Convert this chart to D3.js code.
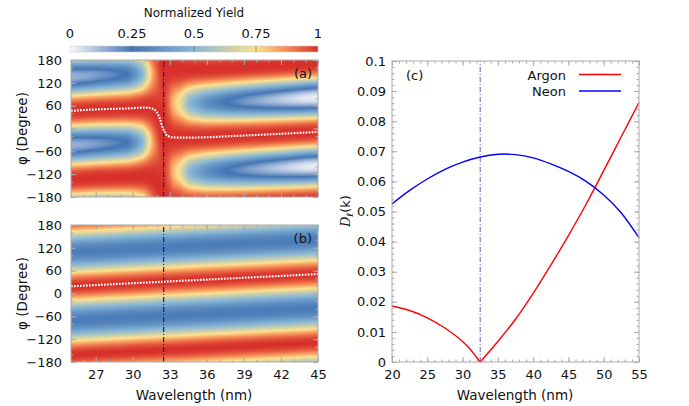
<!DOCTYPE html>
<html lang="en">
<head>
<meta charset="UTF-8">
<title>Normalized yield and D(k)</title>
<script src="https://d3js.org/d3.v7.min.js"></script>
<style>
  body { margin: 0; background: #fff; }
  svg { display: block; font-family: "DejaVu Sans", sans-serif; }
  .frame { fill: none; stroke: #aaa; stroke-width: 1; }
  .ax .domain { display: none; }
  .ax line { stroke: #aaa; }
  .ax text { font-size: 13px; fill: #111; font-family: "DejaVu Sans", sans-serif; }
  .lbl { font-size: 13px; fill: #111; }
</style>
</head>
<body>
<script>
// colour bar
const yieldTicks = [0, 0.25, 0.5, 0.75, 1];
const yieldTickLabels = ["0", "0.25", "0.5", "0.75", "1"];
const yieldStops = [0, 0.25, 0.5, 0.75, 0.875, 1];
const yieldColors = ["#f9f9fc", "#4575b4", "#88b7d6", "#fde08e", "#f58a55", "#d7302a"];

// panels (a) and (b)
const phiTicks = [-180, -120, -60, 0, 60, 120, 180];
const waveTicks = [27, 30, 33, 36, 39, 42, 45];
const resonance = 32.5;

// (a) angle of maximum yield (white dots) and modulation depth
const phaseWaveA = [25, 27, 29.5, 31, 31.5, 31.9, 32.2, 32.4, 32.6, 32.8, 33.3, 34, 36, 38, 40, 42, 45];
const phaseA = [46.5, 50, 52.7, 55, 53, 45, 25, 5, -10, -19, -23.5, -24, -23, -20, -17, -14, -9];
const depthWaveA = [25, 26.6, 28, 29.6, 30.3, 30.8, 31.3, 31.7, 32.1, 32.5, 32.9, 33.3, 33.9, 34.6, 35.9, 37.6, 39.3, 41, 42.6, 44, 45];
const depthA = [0.87, 0.84, 0.8, 0.74, 0.62, 0.5, 0.28, 0.14, 0.05, 0, 0.08, 0.2, 0.3, 0.5, 0.65, 0.75, 0.82, 0.88, 0.93, 0.97, 0.98];
const shapeA = 1.3;

// (b)
const phaseWaveB = [25, 30, 35, 40, 45];
const phaseB = [19, 27, 35, 43, 51];
const depthB = [0.72, 0.72, 0.72, 0.72, 0.72];
const shapeB = 1;

// (c)
const argonWave = [20, 22.5, 25, 27.5, 30, 31, 32, 32.5, 35, 37.5, 40, 42.5, 45, 47.5, 50, 52.5, 55];
const argon = [0.0186, 0.0171, 0.0147, 0.0113, 0.0068, 0.0045, 0.0015, 0, 0.0068, 0.0142, 0.0228, 0.0322, 0.042, 0.0524, 0.0636, 0.0749, 0.0862];
const neonWave = [20, 22.5, 25, 27.5, 30, 32.5, 35, 37.5, 40, 42.5, 45, 47.5, 50, 52.5, 55];
const neon = [0.0525, 0.057, 0.0608, 0.064, 0.0664, 0.0681, 0.069, 0.0689, 0.0678, 0.0658, 0.0633, 0.06, 0.0555, 0.0495, 0.0413];

const width = 689, height = 406;
const svg = d3.select("body").append("svg").attr("width", width).attr("height", height);

const color = d3.scaleLinear().domain(yieldStops).range(yieldColors).clamp(true);

// colour bar on top
const cb = d3.scaleLinear().domain([0, 1]).range([70, 318]);
const grad = svg.append("defs").append("linearGradient").attr("id", "cbar");
grad.selectAll("stop").data(d3.range(0, 1.0001, 0.02)).join("stop")
    .attr("offset", d => d)
    .attr("stop-color", d => color(d));
svg.append("rect").attr("x", cb(0)).attr("y", 46).attr("width", cb(1) - cb(0)).attr("height", 6)
    .attr("fill", "url(#cbar)").attr("stroke", "#ccc").attr("stroke-width", 0.6);
svg.selectAll(".cbt").data(yieldTicks.slice(1, -1)).join("line")
    .attr("x1", d => cb(d)).attr("x2", d => cb(d)).attr("y1", 46).attr("y2", 52)
    .attr("stroke", "#555").attr("stroke-opacity", 0.5);
svg.selectAll(".cbl").data(yieldTicks).join("text")
    .attr("class", "lbl").attr("x", d => cb(d)).attr("y", 38)
    .attr("text-anchor", "middle").text((d, i) => yieldTickLabels[i]);
svg.append("text").attr("class", "lbl").attr("x", 194).attr("y", 16.5)
    .attr("text-anchor", "middle").style("font-size", "12px").text("Normalized Yield");

// inward ticks on all four sides
function frame(g, x, y, xMaj, xMin, yMaj, yMin, opts) {
    const [x0, x1] = x.range(), [y0, y1] = y.range();
    const gx = g.append("g").attr("class", "ax").attr("transform", `translate(0,${y0})`);
    gx.call(d3.axisBottom(x).tickValues(xMin).tickSize(-2.5).tickFormat(""));
    const gxm = g.append("g").attr("class", "ax").attr("transform", `translate(0,${y0})`);
    gxm.call(d3.axisBottom(x).tickValues(xMaj).tickSize(-5).tickPadding(opts.xPad)
        .tickFormat(opts.xLabels ? opts.xFormat : ""));
    g.append("g").attr("class", "ax").attr("transform", `translate(0,${y1})`)
        .call(d3.axisTop(x).tickValues(xMin).tickSize(-2.5).tickFormat(""));
    g.append("g").attr("class", "ax").attr("transform", `translate(0,${y1})`)
        .call(d3.axisTop(x).tickValues(xMaj).tickSize(-5).tickFormat(""));
    g.append("g").attr("class", "ax").attr("transform", `translate(${x0},0)`)
        .call(d3.axisLeft(y).tickValues(yMin).tickSize(-2.5).tickFormat(""));
    g.append("g").attr("class", "ax").attr("transform", `translate(${x0},0)`)
        .call(d3.axisLeft(y).tickValues(yMaj).tickSize(-5).tickPadding(opts.yPad).tickFormat(opts.yFormat));
    g.append("g").attr("class", "ax").attr("transform", `translate(${x1},0)`)
        .call(d3.axisRight(y).tickValues(yMin).tickSize(-2.5).tickFormat(""));
    g.append("g").attr("class", "ax").attr("transform", `translate(${x1},0)`)
        .call(d3.axisRight(y).tickValues(yMaj).tickSize(-5).tickFormat(""));
    g.append("rect").attr("class", "frame")
        .attr("x", x0).attr("y", y1).attr("width", x1 - x0).attr("height", y0 - y1);
}

function heatPanel(top, phaseWave, phase, depthWave, depth, shape, tag, xLabels) {
    const x = d3.scaleLinear().domain([25, 45]).range([71, 318]);
    const y = d3.scaleLinear().domain([-180, 180]).range([top + 137, top]);
    const phaseAt = d3.scaleLinear().domain(phaseWave).range(phase).clamp(true);
    const depthAt = d3.scaleLinear().domain(depthWave).range(depth).clamp(true);
    const g = svg.append("g");

    const w = 247, h = 137;
    const canvas = document.createElement("canvas");
    canvas.width = w; canvas.height = h;
    const ctx = canvas.getContext("2d");
    const img = ctx.createImageData(w, h);
    for (let px = 0; px < w; px++) {
        const lam = x.invert(71 + px + 0.5);
        const p0 = phaseAt(lam), m = depthAt(lam);
        for (let py = 0; py < h; py++) {
            const phi = y.invert(top + py + 0.5);
            const s = Math.sin((phi - p0) * Math.PI / 180);
            const v = 1 - m * Math.pow(s * s, shape);
            const c = d3.rgb(color(v));
            const k = (py * w + px) * 4;
            img.data[k] = c.r; img.data[k + 1] = c.g; img.data[k + 2] = c.b; img.data[k + 3] = 255;
        }
    }
    ctx.putImageData(img, 0, 0);
    g.append("image").attr("href", canvas.toDataURL())
        .attr("x", 71).attr("y", top).attr("width", w).attr("height", h)
        .attr("preserveAspectRatio", "none");

    // resonance line
    g.append("line").attr("x1", x(resonance)).attr("x2", x(resonance))
        .attr("y1", y(-180)).attr("y2", y(180))
        .attr("stroke", "#1c1c96").attr("stroke-width", 1.2).attr("stroke-dasharray", "5,2,1,2");

    // angle of maximum yield
    g.append("path").datum(phaseWave.map((d, i) => [d, phase[i]]))
        .attr("d", d3.line().x(d => x(d[0])).y(d => y(d[1])).curve(d3.curveMonotoneX))
        .attr("fill", "none").attr("stroke", "#fff").attr("stroke-width", 2.2)
        .attr("stroke-dasharray", "1.7,1.3");

    frame(g, x, y, waveTicks, d3.range(25, 45.01, 1), phiTicks, d3.range(-180, 180.1, 20), {
        xPad: 8, yPad: 9, xLabels: xLabels, xFormat: d3.format("d"), yFormat: d3.format("d")
    });

    g.append("text").attr("class", "lbl").attr("x", 312).attr("y", top + 18)
        .attr("text-anchor", "end").text(tag);
    g.append("text").attr("class", "lbl").style("font-size", "13.5px")
        .attr("transform", `translate(27,${top + 68.5}) rotate(-90)`)
        .attr("text-anchor", "middle").text("φ (Degree)");
    return x;
}

heatPanel(60, phaseWaveA, phaseA, depthWaveA, depthA, shapeA, "(a)", false);
const xb = heatPanel(225, phaseWaveB, phaseB, phaseWaveB, depthB, shapeB, "(b)", true);
svg.append("text").attr("class", "lbl").style("font-size", "13.5px")
    .attr("x", 194).attr("y", 400).attr("text-anchor", "middle").text("Wavelength (nm)");

// panel (c)
const xc = d3.scaleLinear().domain([20, 55]).range([392, 639]);
const yc = d3.scaleLinear().domain([0, 0.1]).range([362, 61]);
const gc = svg.append("g");

gc.append("line").attr("x1", xc(resonance)).attr("x2", xc(resonance))
    .attr("y1", yc(0)).attr("y2", yc(0.1))
    .attr("stroke", "#7b7bd2").attr("stroke-width", 1.2).attr("stroke-dasharray", "5,2,1,2");

const lineC = d3.line().x(d => xc(d[0])).y(d => yc(d[1]));
const argonPts = argonWave.map((d, i) => [d, argon[i]]);
gc.append("path").datum(argonPts.filter(d => d[0] <= resonance))
    .attr("d", lineC.curve(d3.curveMonotoneX))
    .attr("fill", "none").attr("stroke", "#ff0000").attr("stroke-width", 1.4);
gc.append("path").datum(argonPts.filter(d => d[0] >= resonance))
    .attr("d", lineC.curve(d3.curveMonotoneX))
    .attr("fill", "none").attr("stroke", "#ff0000").attr("stroke-width", 1.4);
gc.append("path").datum(neonWave.map((d, i) => [d, neon[i]]))
    .attr("d", lineC.curve(d3.curveNatural))
    .attr("fill", "none").attr("stroke", "#0000ff").attr("stroke-width", 1.4);

frame(gc, xc, yc, d3.range(20, 55.01, 5), d3.range(20, 55.01, 1),
    d3.range(0, 0.1001, 0.01), d3.range(0, 0.1001, 0.002), {
        xPad: 8, yPad: 6, xLabels: true, xFormat: d3.format("d"),
        yFormat: d => d === 0 ? "0" : d3.format(".2~f")(d)
    });

gc.append("text").attr("class", "lbl").attr("x", 406).attr("y", 80).text("(c)");

const legend = [["Argon", "#ff0000", 74.5], ["Neon", "#0000ff", 91]];
legend.forEach(([name, col, ly]) => {
    gc.append("text").attr("class", "lbl").attr("x", 566).attr("y", ly + 5)
        .attr("text-anchor", "end").text(name);
    gc.append("line").attr("x1", 579).attr("x2", 621).attr("y1", ly).attr("y2", ly)
        .attr("stroke", col).attr("stroke-width", 1.4);
});

svg.append("text").attr("class", "lbl").style("font-size", "13.5px")
    .attr("x", 515).attr("y", 400).attr("text-anchor", "middle").text("Wavelength (nm)");

const ylab = svg.append("text").attr("class", "lbl")
    .attr("transform", "translate(350,211) rotate(-90)").attr("text-anchor", "middle");
ylab.append("tspan").style("font-family", "'DejaVu Serif', serif").style("font-style", "italic").text("D");
ylab.append("tspan").attr("dy", 3).style("font-size", "9px").text("ℓ");
ylab.append("tspan").attr("dy", -3).text("(k)");
</script>
</body>
</html>
